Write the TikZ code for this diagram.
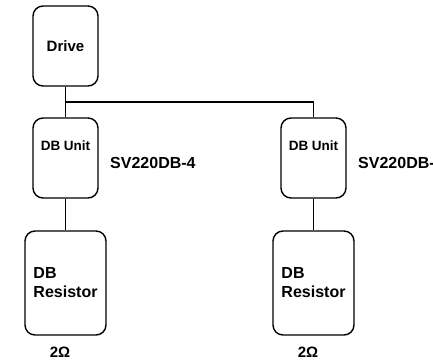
\documentclass[tikz,border=0pt]{standalone}
\usepackage{fontspec}
\setmainfont{Liberation Sans}
\usepackage{tikz}
\usetikzlibrary{positioning}

\tikzset{
	blk/.style={draw=black, line width=1.4pt, rounded corners=10pt, fill=white, inner sep=0pt},
	drivebox/.style={blk, minimum width=65pt, minimum height=80pt, font=\fontsize{15}{18}\selectfont\bfseries},
	unitbox/.style={blk, minimum width=65pt, minimum height=80pt},
	resbox/.style={blk, minimum width=81pt, minimum height=104pt, align=left, font=\fontsize{16}{19}\selectfont\bfseries},
	wire/.style={line width=1.4pt, draw=black}
}

\begin{document}
\begin{tikzpicture}[x=1pt,y=-1pt]
			\useasboundingbox (0,0) rectangle (433,363);
			\node[drivebox] (drive) at (65.5,46) {Drive};
			\node[unitbox, label={[anchor=center, yshift=-28pt, font=\fontsize{13.5}{16}\selectfont\bfseries]north:DB Unit}, label={[anchor=west, xshift=8pt, yshift=-5pt, font=\fontsize{16}{19}\selectfont\bfseries]east:SV220DB-4}] (unitA) at (65.5,158) {};
			\node[unitbox, label={[anchor=center, yshift=-28pt, font=\fontsize{13.5}{16}\selectfont\bfseries]north:DB Unit}, label={[anchor=west, xshift=8pt, yshift=-5pt, font=\fontsize{16}{19}\selectfont\bfseries]east:SV220DB-4}] (unitB) at (313.5,158) {};
			\node[resbox, label={[anchor=center, xshift=-5.5pt, yshift=-17pt, font=\fontsize{15}{18}\selectfont\bfseries]south:2Ω}] (resA) at (65.5,283) {DB\\Resistor};
			\node[resbox, label={[anchor=center, xshift=-5.5pt, yshift=-17pt, font=\fontsize{15}{18}\selectfont\bfseries]south:2Ω}] (resB) at (313.5,283) {DB\\Resistor};
			\coordinate (tap) at (65.5,102);
			\draw[wire] (drive) -- (unitA);
			\draw[wire] (tap) -| (unitB);
			\draw[wire] (unitA) -- (resA);
			\draw[wire] (unitB) -- (resB);
		\end{tikzpicture}
\end{document}
